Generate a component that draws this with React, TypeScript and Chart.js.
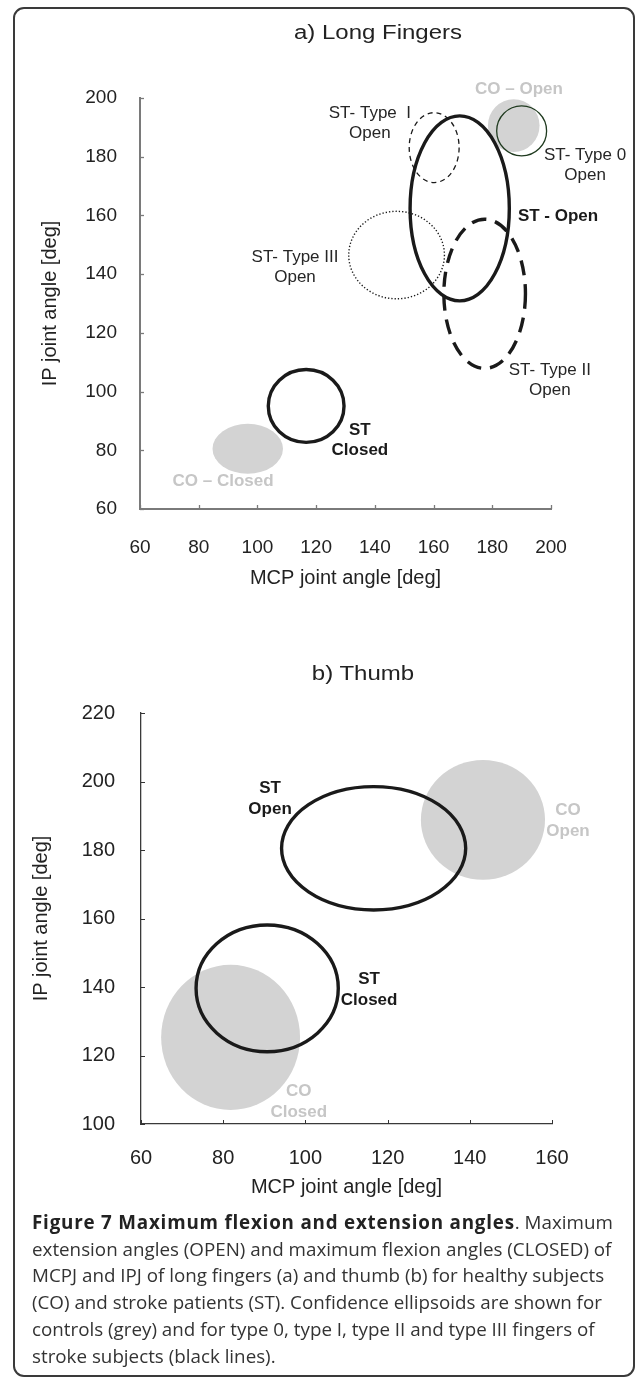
import React, { useEffect, useRef } from "react";
import { Chart, registerables } from "chart.js";

Chart.register(...registerables);

const FONT = '"Liberation Sans", Arial, Helvetica, sans-serif';

// ---------- Panel a) Long Fingers : confidence ellipses (data units, degrees) ----------
const fingerNames = [
  "CO – Open",
  "CO – Closed",
  "ST - Open",
  "ST Closed",
  "ST- Type 0 Open",
  "ST- Type I Open",
  "ST- Type II Open",
  "ST- Type III Open",
];
const fingerCenterMCP = [187.3, 96.7, 168.9, 116.6, 190.0, 160.2, 177.4, 147.4];
const fingerCenterIP = [190.6, 80.5, 162.4, 95.1, 188.8, 183.1, 133.3, 146.5];
const fingerRadiusMCP = [8.8, 12.0, 16.9, 12.9, 8.5, 8.5, 13.9, 16.3];
const fingerRadiusIP = [9.0, 8.5, 31.5, 12.4, 8.5, 11.9, 25.4, 14.9];

const fingerLabelText = [
  ["CO – Open"],
  ["ST- Type  I", "Open"],
  ["ST- Type 0", "Open"],
  ["ST - Open"],
  ["ST- Type III", "Open"],
  ["ST- Type II", "Open"],
  ["ST", "Closed"],
  ["CO – Closed"],
];
const fingerLabelMCP = [189.1, 138.3, 211.6, 202.4, 112.8, 199.6, 134.9, 88.3];
const fingerLabelIP = [203.1, 191.5, 177.2, 159.8, 142.4, 103.8, 83.3, 69.5];

const fingerTicksMCP = [60, 80, 100, 120, 140, 160, 180, 200];
const fingerTicksIP = [60, 80, 100, 120, 140, 160, 180, 200];

// ---------- Panel b) Thumb ----------
const thumbNames = ["CO Open", "CO Closed", "ST Open", "ST Closed"];
const thumbCenterMCP = [143.2, 81.8, 116.6, 90.7];
const thumbCenterIP = [188.8, 125.3, 180.5, 139.6];
const thumbRadiusMCP = [15.1, 16.9, 22.4, 17.3];
const thumbRadiusIP = [17.5, 21.2, 18.0, 18.5];

const thumbLabelText = [["ST", "Open"], ["CO", "Open"], ["ST", "Closed"], ["CO", "Closed"]];
const thumbLabelMCP = [91.4, 163.9, 115.5, 98.4];
const thumbLabelIP = [195.0, 188.5, 139.3, 106.6];

const thumbTicksMCP = [60, 80, 100, 120, 140, 160];
const thumbTicksIP = [100, 120, 140, 160, 180, 200, 220];

// ---------- styles ----------
type EStyle = { fill?: string; stroke?: string; width?: number; dash?: number[] };
const GREY_FILL = "#d3d3d3";
const BLACK = "#1a1a1a";
const ellipseStyles: Record<string, EStyle> = {
  "CO – Open": { fill: GREY_FILL },
  "CO – Closed": { fill: GREY_FILL },
  "ST - Open": { stroke: BLACK, width: 3.4 },
  "ST Closed": { stroke: BLACK, width: 3.4 },
  "ST- Type 0 Open": { stroke: "#1f3a1f", width: 1.3 },
  "ST- Type I Open": { stroke: BLACK, width: 1.3, dash: [5, 4] },
  "ST- Type II Open": { stroke: BLACK, width: 3.4, dash: [15, 9] },
  "ST- Type III Open": { stroke: BLACK, width: 1.4, dash: [1.3, 2] },
  "CO Open": { fill: GREY_FILL },
  "CO Closed": { fill: GREY_FILL },
  "ST Open": { stroke: BLACK, width: 3.4 },
};

type LStyle = { color: string; bold: boolean };
const fingerLabelStyles: LStyle[] = [
  { color: "#c6c6c6", bold: true },
  { color: "#262626", bold: false },
  { color: "#262626", bold: false },
  { color: "#1a1a1a", bold: true },
  { color: "#262626", bold: false },
  { color: "#262626", bold: false },
  { color: "#1a1a1a", bold: true },
  { color: "#c6c6c6", bold: true },
];
const thumbLabelStyles: LStyle[] = [
  { color: "#1a1a1a", bold: true },
  { color: "#c6c6c6", bold: true },
  { color: "#1a1a1a", bold: true },
  { color: "#c6c6c6", bold: true },
];

type Panel = {
  names: string[];
  cx: number[];
  cy: number[];
  rx: number[];
  ry: number[];
  labels: string[][];
  lx: number[];
  ly: number[];
  lstyles: LStyle[];
  xTicks: number[];
  yTicks: number[];
  labelSize: number;
  labelLine: number;
  tickColor: string;
  tickWidth: number;
};

function makePlugin(p: Panel) {
  return {
    id: "ellipsesAndLabels",
    beforeDatasetsDraw(chart: any) {
      const { ctx } = chart;
      const xs = chart.scales.x;
      const ys = chart.scales.y;
      // fills first, then outlines
      const order = p.names
        .map((n, i) => i)
        .sort((a, b) => (ellipseStyles[p.names[a]].fill ? 0 : 1) - (ellipseStyles[p.names[b]].fill ? 0 : 1));
      for (const i of order) {
        const st = ellipseStyles[p.names[i]];
        const px = xs.getPixelForValue(p.cx[i]);
        const py = ys.getPixelForValue(p.cy[i]);
        const rxp = Math.abs(xs.getPixelForValue(p.cx[i] + p.rx[i]) - px);
        const ryp = Math.abs(ys.getPixelForValue(p.cy[i] + p.ry[i]) - py);
        ctx.save();
        ctx.beginPath();
        ctx.ellipse(px, py, rxp, ryp, 0, 0, Math.PI * 2);
        if (st.fill) {
          ctx.fillStyle = st.fill;
          ctx.fill();
        }
        if (st.stroke) {
          ctx.strokeStyle = st.stroke;
          ctx.lineWidth = st.width || 1;
          ctx.setLineDash(st.dash || []);
          ctx.stroke();
        }
        ctx.restore();
      }
    },
    afterDraw(chart: any) {
      const { ctx } = chart;
      const xs = chart.scales.x;
      const ys = chart.scales.y;
      const area = chart.chartArea;
      // inward tick marks
      ctx.save();
      ctx.strokeStyle = p.tickColor;
      ctx.lineWidth = p.tickWidth;
      for (const v of p.xTicks) {
        const px = Math.round(xs.getPixelForValue(v)) + 0.5;
        ctx.beginPath();
        ctx.moveTo(px, area.bottom);
        ctx.lineTo(px, area.bottom - 4);
        ctx.stroke();
      }
      for (const v of p.yTicks) {
        const py = Math.round(ys.getPixelForValue(v)) + 0.5;
        ctx.beginPath();
        ctx.moveTo(area.left, py);
        ctx.lineTo(area.left + 4, py);
        ctx.stroke();
      }
      ctx.restore();
      // text annotations
      ctx.save();
      ctx.textAlign = "center";
      ctx.textBaseline = "middle";
      p.labels.forEach((lines, i) => {
        const st = p.lstyles[i];
        ctx.font = `${st.bold ? "bold " : ""}${p.labelSize}px ${FONT}`;
        ctx.fillStyle = st.color;
        const px = xs.getPixelForValue(p.lx[i]);
        const py = ys.getPixelForValue(p.ly[i]);
        const n = lines.length;
        lines.forEach((t, k) => {
          ctx.fillText(t, px, py + (k - (n - 1) / 2) * p.labelLine);
        });
      });
      ctx.restore();
    },
  };
}

type AxisCfg = {
  tickSize: number;
  titleSize: number;
  xTickPad: number;
  yTickPad: number;
  xTitlePadBottom: number;
  yTitlePadTop: number;
  xAxisHeight: number;
  yAxisWidth: number;
};

function buildConfig(
  p: Panel,
  xRange: [number, number],
  yRange: [number, number],
  layoutPad: { top: number; right: number },
  a: AxisCfg,
  border: { color: string; width: number }
): any {
  return {
    type: "scatter",
    data: {
      datasets: [
        {
          label: "centres",
          data: p.cx.map((x, i) => ({ x, y: p.cy[i] })),
          pointRadius: 0,
          pointHoverRadius: 0,
          showLine: false,
        },
      ],
    },
    options: {
      animation: false,
      responsive: false,
      events: [],
      layout: { padding: { left: 0, top: layoutPad.top, right: layoutPad.right, bottom: 0 } },
      plugins: { legend: { display: false }, tooltip: { enabled: false }, title: { display: false } },
      scales: {
        x: {
          type: "linear",
          position: "bottom",
          min: xRange[0],
          max: xRange[1],
          afterBuildTicks: (s: any) => {
            s.ticks = p.xTicks.map((v) => ({ value: v }));
          },
          ticks: {
            font: { family: FONT, size: a.tickSize },
            color: "#222",
            padding: a.xTickPad,
            maxRotation: 0,
            autoSkip: false,
          },
          grid: { display: false },
          border: { display: true, color: border.color, width: border.width },
          title: {
            display: true,
            text: "MCP joint angle [deg]",
            font: { family: FONT, size: a.titleSize },
            color: "#222",
            padding: { top: 0, bottom: a.xTitlePadBottom },
          },
          afterFit: (s: any) => {
            s.height = a.xAxisHeight;
          },
        },
        y: {
          type: "linear",
          position: "left",
          min: yRange[0],
          max: yRange[1],
          afterBuildTicks: (s: any) => {
            s.ticks = p.yTicks.map((v) => ({ value: v }));
          },
          ticks: {
            font: { family: FONT, size: a.tickSize },
            color: "#222",
            padding: a.yTickPad,
            autoSkip: false,
          },
          grid: { display: false },
          border: { display: true, color: border.color, width: border.width },
          title: {
            display: true,
            text: "IP joint angle [deg]",
            font: { family: FONT, size: a.titleSize },
            color: "#222",
            padding: { top: a.yTitlePadTop, bottom: 0 },
          },
          afterFit: (s: any) => {
            s.width = a.yAxisWidth;
          },
        },
      },
    },
    plugins: [makePlugin(p)],
  };
}

const fingerPanel: Panel = {
  names: fingerNames,
  cx: fingerCenterMCP,
  cy: fingerCenterIP,
  rx: fingerRadiusMCP,
  ry: fingerRadiusIP,
  labels: fingerLabelText,
  lx: fingerLabelMCP,
  ly: fingerLabelIP,
  lstyles: fingerLabelStyles,
  xTicks: fingerTicksMCP,
  yTicks: fingerTicksIP,
  labelSize: 17,
  labelLine: 20,
  tickColor: "#7a7a7a",
  tickWidth: 1.3,
};

const thumbPanel: Panel = {
  names: thumbNames,
  cx: thumbCenterMCP,
  cy: thumbCenterIP,
  rx: thumbRadiusMCP,
  ry: thumbRadiusIP,
  labels: thumbLabelText,
  lx: thumbLabelMCP,
  ly: thumbLabelIP,
  lstyles: thumbLabelStyles,
  xTicks: thumbTicksMCP,
  yTicks: thumbTicksIP,
  labelSize: 17,
  labelLine: 21,
  tickColor: "#333",
  tickWidth: 1,
};

function ChartCanvas({ config, width, height, style }: { config: () => any; width: number; height: number; style: React.CSSProperties }) {
  const ref = useRef<HTMLCanvasElement | null>(null);
  useEffect(() => {
    if (!ref.current) return;
    const chart = new Chart(ref.current, config());
    return () => chart.destroy();
  }, []);
  return <canvas ref={ref} width={width} height={height} style={{ position: "absolute", width, height, ...style }} />;
}

export default function App() {
  const titleStyle: React.CSSProperties = {
    position: "absolute",
    fontFamily: FONT,
    fontSize: 20,
    lineHeight: "20px",
    color: "#222",
    whiteSpace: "nowrap",
    transform: "translate(-50%, -50%) scaleX(1.2)",
  };
  const captionLine: React.CSSProperties = { whiteSpace: "nowrap" };
  return (
    <div style={{ position: "absolute", left: 0, top: 0, width: 635, height: 1377, overflow: "hidden", background: "#fff" }}>
      <div
        style={{
          position: "absolute",
          left: 13,
          top: 7,
          width: 622,
          height: 1370,
          boxSizing: "border-box",
          border: "2px solid #3a3a3a",
          borderRadius: 11,
        }}
      />
      <ChartCanvas
        width={635}
        height={620}
        style={{ left: 0, top: 0 }}
        config={() =>
          buildConfig(
            fingerPanel,
            [60, 200],
            [60, 200],
            { top: 98, right: 84 },
            {
              tickSize: 19,
              titleSize: 20,
              xTickPad: 19,
              yTickPad: 15,
              xTitlePadBottom: 30,
              yTitlePadTop: 38,
              xAxisHeight: 111,
              yAxisWidth: 140,
            },
            { color: "#7a7a7a", width: 2 }
          )
        }
      />
      <ChartCanvas
        width={635}
        height={580}
        style={{ left: 0, top: 640 }}
        config={() =>
          buildConfig(
            thumbPanel,
            [60, 160],
            [100, 220],
            { top: 73, right: 83 },
            {
              tickSize: 20,
              titleSize: 20,
              xTickPad: 14,
              yTickPad: 18,
              xTitlePadBottom: 21,
              yTitlePadTop: 29,
              xAxisHeight: 96,
              yAxisWidth: 141,
            },
            { color: "#3a3a3a", width: 1.3 }
          )
        }
      />
      <div style={{ ...titleStyle, left: 378, top: 32 }}>a) Long Fingers</div>
      <div style={{ ...titleStyle, left: 363, top: 673 }}>b) Thumb</div>
      <div
        style={{
          position: "absolute",
          left: 32,
          top: 1209,
          fontFamily: "'Open Sans', 'Noto Sans', sans-serif",
          fontSize: 18.8,
          lineHeight: "26.7px",
          color: "#333",
        }}
      >
        <div style={captionLine}>
          <b style={{ color: "#222", letterSpacing: "0.8px" }}>Figure 7 Maximum flexion and extension angles</b>. Maximum
        </div>
        <div style={captionLine}>extension angles (OPEN) and maximum flexion angles (CLOSED) of</div>
        <div style={captionLine}>MCPJ and IPJ of long fingers (a) and thumb (b) for healthy subjects</div>
        <div style={captionLine}>(CO) and stroke patients (ST). Confidence ellipsoids are shown for</div>
        <div style={captionLine}>controls (grey) and for type 0, type I, type II and type III fingers of</div>
        <div style={captionLine}>stroke subjects (black lines).</div>
      </div>
    </div>
  );
}
